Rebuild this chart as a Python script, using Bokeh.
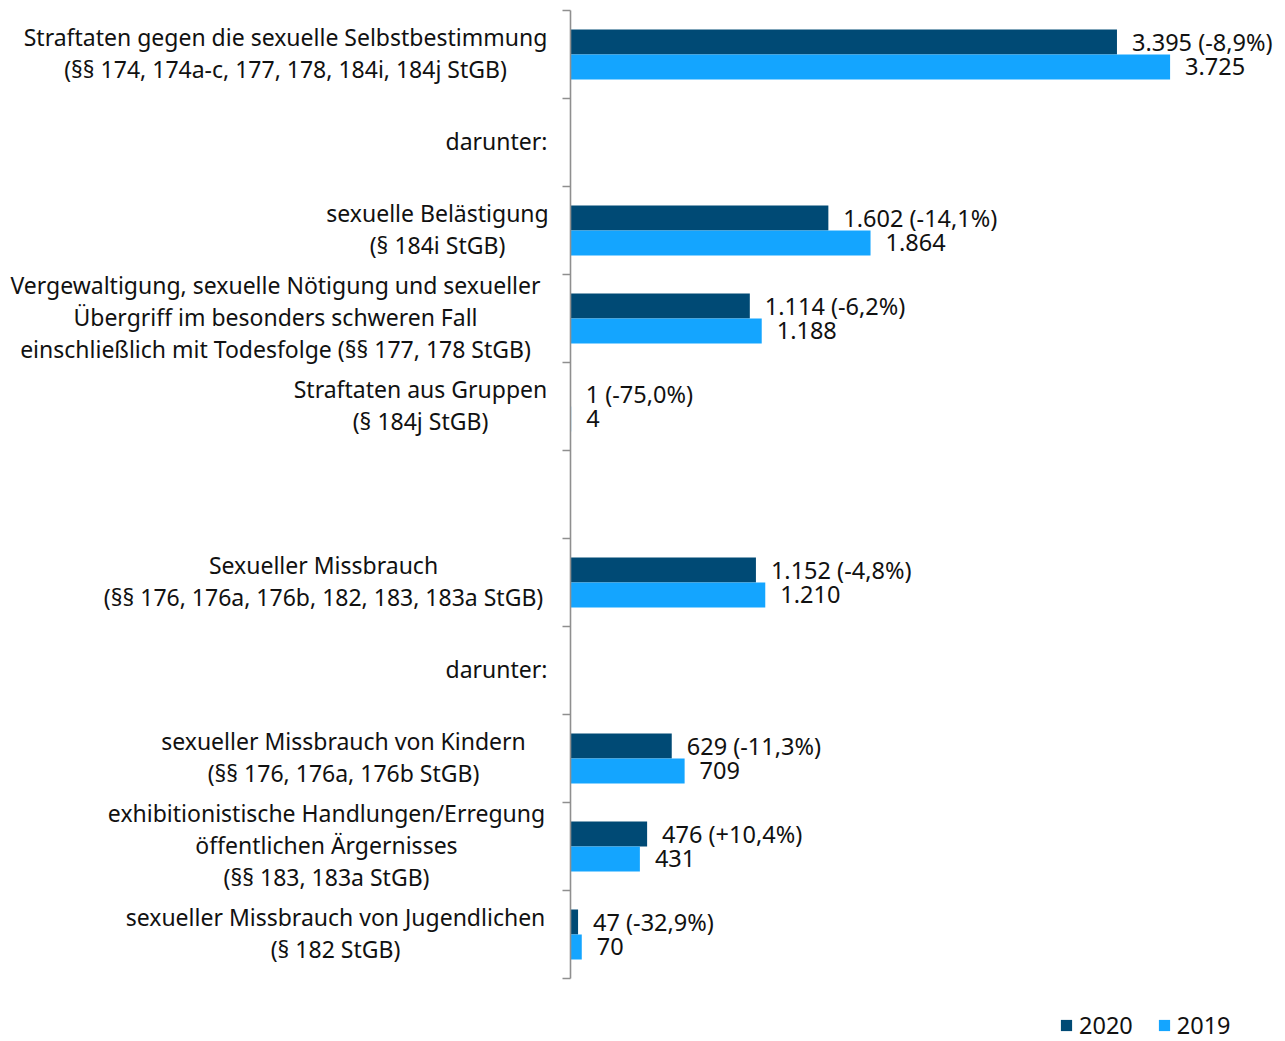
from bokeh.plotting import figure
from bokeh.models import Range1d, FixedTicker, ColumnDataSource, Legend, LegendItem
from bokeh.layouts import row
from bokeh.embed import file_html
from bokeh.resources import INLINE
from bokeh.core.properties import value

# ---------------- data ----------------
category_lines = [
    ["Straftaten gegen die sexuelle Selbstbestimmung", "(§§ 174, 174a-c, 177, 178, 184i, 184j StGB)"],
    ["darunter:"],
    ["sexuelle Belästigung", "(§ 184i StGB)"],
    ["Vergewaltigung, sexuelle Nötigung und sexueller", "Übergriff im besonders schweren Fall",
     "einschließlich mit Todesfolge (§§ 177, 178 StGB)"],
    ["Straftaten aus Gruppen", "(§ 184j StGB)"],
    [],
    ["Sexueller Missbrauch", "(§§ 176, 176a, 176b, 182, 183, 183a StGB)"],
    ["darunter:"],
    ["sexueller Missbrauch von Kindern", "(§§ 176, 176a, 176b StGB)"],
    ["exhibitionistische Handlungen/Erregung", "öffentlichen Ärgernisses", "(§§ 183, 183a StGB)"],
    ["sexueller Missbrauch von Jugendlichen", "(§ 182 StGB)"],
]
values_2020 = [3395, None, 1602, 1114, 1, None, 1152, None, 629, 476, 47]
values_2019 = [3725, None, 1864, 1188, 4, None, 1210, None, 709, 431, 70]
changes = ["-8,9%", None, "-14,1%", "-6,2%", "-75,0%", None, "-4,8%", None, "-11,3%", "+10,4%", "-32,9%"]
series_names = ["2020", "2019"]

# ---------------- style ----------------
DARK = "#004A75"
LIGHT = "#14A5FF"
TEXT = "#111111"
FONT = "Noto Sans"
FS = "23.5px"
FS_CAT = "23px"
label_centers_px = [285, 496, 437, 275, 420, 0, 323, 496, 343, 326, 335]  # screen x of label centres
LEFT_W = 562
BAR_H = 0.284
SLOT_PX = 88
TOP = 10
TOTAL_H = 1041

def de(n):
    return f"{n:,}".replace(",", ".")

n = len(category_lines)
y_bottom = (TOTAL_H - TOP) / SLOT_PX
y_range = Range1d(y_bottom, 0)

y20, v20, y19, v19, lab20, lab19 = [], [], [], [], [], []
for i in range(n):
    if values_2020[i] is None:
        continue
    c = i + 0.5
    y20.append(c - BAR_H / 2)
    v20.append(values_2020[i])
    y19.append(c + BAR_H / 2)
    v19.append(values_2019[i])
    lab20.append(f"{de(values_2020[i])} ({changes[i]})")
    lab19.append(de(values_2019[i]))

src20 = ColumnDataSource(dict(y=y20, v=v20, lab=lab20))
src19 = ColumnDataSource(dict(y=y19, v=v19, lab=lab19))

lx, ly, lyo, lt = [], [], [], []
for i, lines in enumerate(category_lines):
    k = len(lines)
    for j, t in enumerate(lines):
        lx.append(label_centers_px[i])
        ly.append(i + 0.5)
        lyo.append((j - (k - 1) / 2) * 32 - 1.5)
        lt.append(t)
lab_src = ColumnDataSource(dict(x=lx, y=ly, yo=lyo, t=lt))

common = dict(text_font=value(FONT), text_color=TEXT, text_baseline="middle")

# ---- left figure: category labels ----
pl = figure(width=LEFT_W, height=TOTAL_H, output_backend="svg", toolbar_location=None,
            x_range=Range1d(0, LEFT_W), y_range=y_range,
            min_border_left=0, min_border_right=0, min_border_top=TOP, min_border_bottom=0)
pl.outline_line_color = None
pl.xaxis.visible = False
pl.yaxis.visible = False
pl.xgrid.visible = False
pl.ygrid.visible = False
pl.text(x="x", y="y", text="t", source=lab_src, y_offset="yo", text_align="center",
        text_font_size=FS_CAT, **common)

# ---- right figure: bars ----
RIGHT_W = 1285 - LEFT_W
p = figure(width=RIGHT_W, height=TOTAL_H, output_backend="svg", toolbar_location=None,
           x_range=Range1d(0, 4442), y_range=y_range,
           min_border_left=8, min_border_right=0, min_border_top=TOP, min_border_bottom=0)
p.outline_line_color = None
p.xgrid.visible = False
p.ygrid.visible = False
p.xaxis.visible = False

ax = p.yaxis[0]
ax.ticker = FixedTicker(ticks=list(range(n + 1)))
ax.bounds = (0, n)
ax.major_label_overrides = {i: "" for i in range(n + 1)}
ax.major_label_standoff = 0
ax.major_label_text_font_size = "0px"
ax.major_tick_out = 8
ax.major_tick_in = 0
ax.minor_tick_out = 0
ax.minor_tick_in = 0
ax.axis_line_color = "#8f8f8f"
ax.axis_line_width = 1.6
ax.major_tick_line_color = "#8f8f8f"
ax.major_tick_line_width = 1.6

r20 = p.hbar(y="y", right="v", left=0, height=BAR_H, source=src20, fill_color=DARK, line_color=None)
r19 = p.hbar(y="y", right="v", left=0, height=BAR_H, source=src19, fill_color=LIGHT, line_color=None)

p.text(x="v", y="y", text="lab", source=src20, x_offset=15, y_offset=0, text_align="left",
       text_font_size=FS, **common)
p.text(x="v", y="y", text="lab", source=src19, x_offset=15, y_offset=0, text_align="left",
       text_font_size=FS, **common)

legend = Legend(items=[LegendItem(label=series_names[0], renderers=[r20]),
                       LegendItem(label=series_names[1], renderers=[r19])],
                orientation="horizontal", location=(489, 0),
                glyph_width=14, glyph_height=14, label_standoff=6, spacing=24,
                padding=0, margin=0, border_line_alpha=0, background_fill_alpha=0,
                label_text_font=FONT, label_text_font_size=FS, label_text_color=TEXT)
p.add_layout(legend, "center")

layout = row(pl, p, spacing=0)
open("out.html", "w").write(file_html(layout, INLINE))
